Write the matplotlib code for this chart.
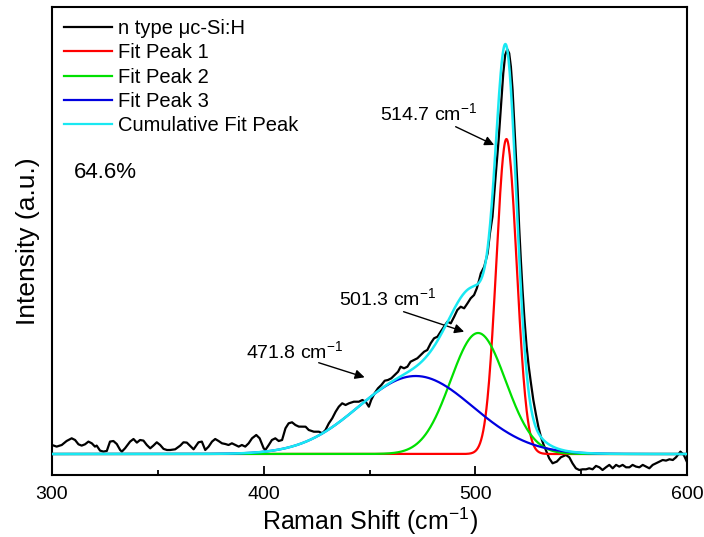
import numpy as np
import matplotlib
matplotlib.use("Agg")
import matplotlib.pyplot as plt
from matplotlib.ticker import MultipleLocator

plt.rcParams['font.family'] = ['Liberation Sans', 'DejaVu Sans']
plt.rcParams['mathtext.fontset'] = 'custom'
plt.rcParams['mathtext.rm'] = 'Liberation Sans'
plt.rcParams['mathtext.it'] = 'Liberation Sans:italic'
plt.rcParams['mathtext.bf'] = 'Liberation Sans:bold'

# ---- measured spectrum (Raman shift in cm^-1, intensity a.u.) ----
raman_shift = [
    300.0, 302.2, 304.6, 306.9, 309.3, 310.9, 312.5, 314.0, 315.6, 317.2, 318.8, 320.3,
    321.1, 322.7, 324.3, 325.9, 327.4, 329.0, 330.6, 332.2, 333.0, 334.5, 336.9, 338.5,
    340.1, 341.6, 343.2, 344.8, 346.4, 347.9, 349.5, 351.1, 352.7, 354.3, 355.8, 358.2,
    360.6, 362.1, 363.7, 365.3, 366.9, 369.2, 370.8, 372.4, 374.0, 375.6, 377.1, 378.7,
    380.3, 381.9, 383.4, 385.0, 386.6, 388.2, 389.7, 391.3, 392.9, 394.5, 396.5, 398.1,
    400.0, 400.8, 402.4, 403.9, 405.5, 407.1, 408.7, 410.3, 411.8, 413.4, 415.0, 416.6,
    419.8, 421.3, 423.7, 426.1, 427.7, 429.2, 430.8, 432.4, 434.0, 435.5, 437.1, 438.7,
    440.3, 442.6, 445.0, 446.6, 448.2, 449.7, 450.8, 452.4, 454.0, 455.6, 457.2, 458.7,
    460.3, 461.9, 463.5, 464.7, 466.3, 467.9, 469.4, 471.0, 472.6, 474.2, 475.8, 477.3,
    478.9, 480.5, 482.1, 483.6, 485.2, 486.8, 488.4, 490.0, 491.5, 493.1, 494.7, 496.3,
    497.8, 499.4, 500.7, 501.8, 502.6, 504.2, 505.8, 506.9, 508.1, 509.7, 511.0, 512.1,
    513.2, 514.1, 515.1, 516.0, 516.8, 517.6, 518.4, 519.2, 520.0, 520.7, 521.5, 522.3,
    523.2, 524.2, 525.2, 526.2, 527.4, 528.6, 529.8, 531.0, 532.2, 533.3, 534.9, 536.5,
    538.5, 540.4, 542.8, 544.4, 545.9, 547.5, 549.1, 550.7, 552.3, 553.8, 555.4, 557.0,
    558.6, 560.1, 561.7, 563.3, 564.9, 566.5, 568.0, 569.6, 571.2, 572.8, 574.3, 575.9,
    577.5, 579.1, 580.6, 582.2, 583.8, 585.4, 587.0, 588.5, 590.1, 591.7, 593.3, 594.8,
    596.9, 598.5, 599.9,
]
intensity = [
    90, 74, 90, 130, 157, 140, 97, 84, 97, 124, 107, 74,
    84, 34, 24, 31, 124, 130, 100, 40, 24, 57, 124, 150,
    114, 140, 134, 90, 57, 84, 117, 90, 51, 40, 40, 47,
    84, 117, 114, 81, 47, 117, 124, 40, 74, 124, 150, 130,
    107, 100, 90, 107, 90, 74, 90, 74, 107, 157, 190, 157,
    57, 40, 90, 140, 157, 130, 140, 257, 307, 317, 290, 274,
    273, 240, 223, 223, 207, 240, 307, 357, 423, 473, 507, 490,
    507, 523, 523, 540, 523, 473, 540, 607, 657, 690, 733, 740,
    757, 790, 823, 873, 857, 873, 923, 940, 957, 990, 1023, 1040,
    1107, 1157, 1173, 1223, 1273, 1323, 1307, 1373, 1440, 1473, 1457, 1507,
    1557, 1590, 1657, 1740, 1807, 1873, 2007, 2207, 2373, 2807, 3140, 3473,
    3807, 3990, 4047, 4007, 3873, 3640, 3307, 2973, 2640, 2273, 1940, 1640,
    1350, 1080, 880, 720, 540, 400, 270, 170, 95, 40, -43, -93,
    -76, -33, -10, -33, -93, -143, -160, -153, -153, -143, -153, -119,
    -133, -160, -133, -109, -143, -109, -126, -109, -133, -133, -109, -126,
    -133, -109, -126, -143, -109, -93, -76, -60, -66, -53, -60, -33,
    24, -10, -76,
]

# ---- fitted Gaussian peaks ----
peak_centers = [514.7, 501.3, 471.8]
peak_heights = [3150, 1210, 780]
peak_sigmas = [4.8, 13.0, 27.0]
peak_labels = ['Fit Peak 1', 'Fit Peak 2', 'Fit Peak 3']
peak_colors = ['#FF0000', '#00E000', '#0000E0']

xfit = np.linspace(300, 600, 1201)
fits = [h * np.exp(-0.5 * ((xfit - c) / s) ** 2)
        for c, h, s in zip(peak_centers, peak_heights, peak_sigmas)]
cumulative = np.sum(fits, axis=0)

fig = plt.figure(figsize=(7.04, 5.37), dpi=100)
ax = fig.add_axes([52 / 704, 62 / 537, 635 / 704, 468 / 537])

ax.plot(raman_shift, intensity, color='black', lw=1.6, label='n type μc-Si:H', zorder=3)
for f, lab, col in zip(fits, peak_labels, peak_colors):
    ax.plot(xfit, f, color=col, lw=1.6, label=lab, zorder=4)
ax.plot(xfit, cumulative, color='#19E8F2', lw=1.8, label='Cumulative Fit Peak', zorder=5)

ax.set_xlim(300, 600)
ax.set_ylim(-210, 4470)
ax.xaxis.set_major_locator(MultipleLocator(100))
ax.xaxis.set_minor_locator(MultipleLocator(50))
ax.tick_params(axis='x', which='major', direction='in', length=6.5, width=1.3,
               labelsize=14, pad=8)
ax.tick_params(axis='x', which='minor', direction='in', length=3.6, width=1.3)
ax.tick_params(axis='y', which='both', left=False, labelleft=False)
for sp in ax.spines.values():
    sp.set_linewidth(1.5)

ax.set_xlabel('Raman Shift (cm$^{-1}$)', fontsize=18, labelpad=2)
ax.set_ylabel('Intensity (a.u.)', fontsize=19, labelpad=9)

leg = ax.legend(loc='upper left', bbox_to_anchor=(0.019, 0.975), frameon=False,
                fontsize=14.5, borderpad=0, borderaxespad=0, handlelength=2.4,
                handletextpad=0.3, labelspacing=0.27)
for line in leg.get_lines():
    line.set_linewidth(1.6)

ax.text(310.4, 2820, '64.6%', fontsize=16, ha='left', va='center')

arrow_kw = dict(arrowstyle='-|>', color='black', lw=1.0, mutation_scale=14,
                shrinkA=0, shrinkB=0)
# 514.7
ax.text(500.7, 3340, '514.7 cm$^{-1}$', fontsize=14, ha='right', va='baseline')
ax.annotate('', xy=(508.9, 3090), xytext=(490.7, 3273), arrowprops=arrow_kw)
# 501.3
ax.text(435.4, 1490, '501.3 cm$^{-1}$', fontsize=14, ha='left', va='baseline')
ax.annotate('', xy=(494.7, 1223), xytext=(466.1, 1423), arrowprops=arrow_kw)
# 471.8
ax.text(391.8, 960, '471.8 cm$^{-1}$', fontsize=14, ha='left', va='baseline')
ax.annotate('', xy=(447.7, 767), xytext=(426.0, 913), arrowprops=arrow_kw)

fig.savefig('out.png', dpi=100)
